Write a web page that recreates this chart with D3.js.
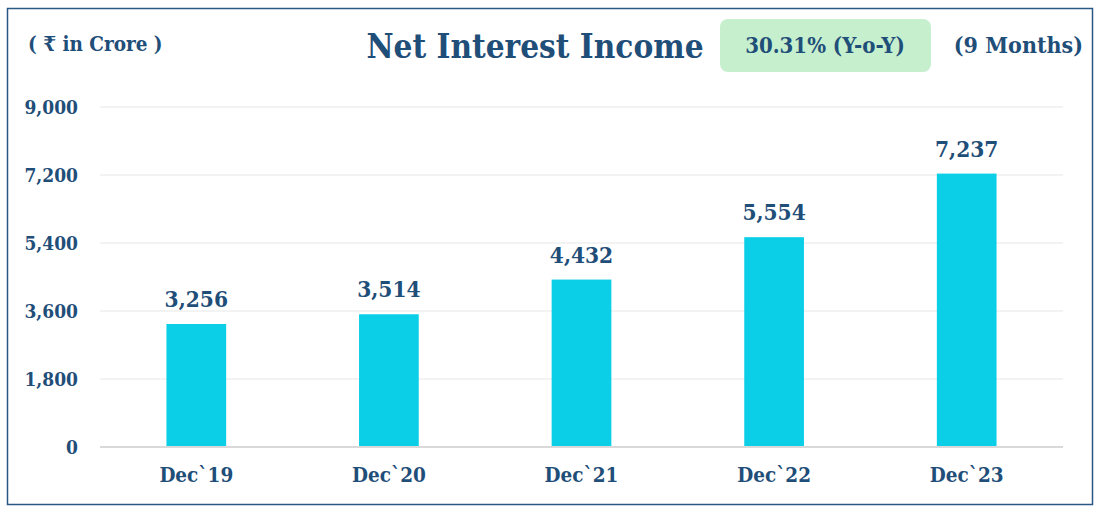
<!DOCTYPE html>
<html>
<head>
<meta charset="utf-8">
<script src="https://cdn.jsdelivr.net/npm/d3@7"></script>
<style>
  body { margin: 0; background: #fff; }
  svg text { font-family: "Book Antiqua", "Palatino Linotype", "DejaVu Serif", serif; font-stretch: condensed; font-weight: bold; fill: #1f4e79; }
</style>
</head>
<body>
<div class="vis"></div>
<script>
const categories = ["Dec`19", "Dec`20", "Dec`21", "Dec`22", "Dec`23"];
const values = [3256, 3514, 4432, 5554, 7237];
const yTicks = [0, 1800, 3600, 5400, 7200, 9000];

const W = 1095, H = 508;
const m = { left: 100, right: 32, top: 107, bottom: 61 };
const w = W - m.left - m.right, h = H - m.top - m.bottom;

const svg = d3.select(".vis").append("svg").attr("width", W).attr("height", H);

// outer frame
svg.append("rect")
    .attr("x", 7.5).attr("y", 8.5).attr("width", 1085).attr("height", 496)
    .attr("fill", "none").attr("stroke", "#2a5783").attr("stroke-width", 1.5);

const g = svg.append("g").attr("transform", `translate(${m.left}, ${m.top})`);

const x = d3.scaleBand().domain(categories).range([0, w]).paddingInner(0.69).paddingOuter(0.345);
const y = d3.scaleLinear().domain([0, 9000]).range([h, 0]);

// gridlines
g.append("g").selectAll("line").data(yTicks.filter(d => d > 0)).join("line")
    .attr("x1", 0).attr("x2", w)
    .attr("y1", d => y(d)).attr("y2", d => y(d))
    .attr("stroke", "#efefef").attr("stroke-width", 1.5);

// y axis labels
const yAxis = g.append("g")
    .call(d3.axisLeft(y).tickValues(yTicks).tickFormat(d3.format(",")).tickSize(0).tickPadding(22));
yAxis.select(".domain").remove();
yAxis.attr("font-family", null).attr("font-size", null);
yAxis.selectAll("text").attr("font-size", 19).attr("dy", "0.35em");

// bars
g.selectAll("rect.bar").data(values).join("rect")
    .attr("class", "bar")
    .attr("x", (d, i) => x(categories[i]))
    .attr("width", x.bandwidth())
    .attr("y", d => y(d))
    .attr("height", d => h - y(d))
    .attr("fill", "#0bcfe7");

// baseline
g.append("line").attr("x1", 0).attr("x2", w).attr("y1", h).attr("y2", h)
    .attr("stroke", "#d9d9d9").attr("stroke-width", 2);

// x axis labels
const xAxis = g.append("g").attr("transform", `translate(0, ${h})`)
    .call(d3.axisBottom(x).tickSize(0).tickPadding(20));
xAxis.select(".domain").remove();
xAxis.attr("font-family", null).attr("font-size", null);
xAxis.selectAll("text").attr("font-size", 20.5);

// value labels
g.selectAll("text.val").data(values).join("text")
    .attr("class", "val")
    .attr("x", (d, i) => x(categories[i]) + x.bandwidth() / 2)
    .attr("y", d => y(d) - 17)
    .attr("text-anchor", "middle")
    .attr("font-size", 22.5)
    .text(d3.format(","));

// header texts
svg.append("text").attr("x", 28).attr("y", 51).attr("font-size", 20.5).text("( ₹ in Crore )");
svg.append("text").attr("x", 535).attr("y", 58).attr("text-anchor", "middle").attr("font-size", 33).text("Net Interest Income");

svg.append("rect").attr("x", 720).attr("y", 19).attr("width", 211).attr("height", 53).attr("rx", 8)
    .attr("fill", "#c6efce");
svg.append("text").attr("x", 825).attr("y", 53).attr("text-anchor", "middle").attr("font-size", 22).text("30.31% (Y-o-Y)");
svg.append("text").attr("x", 1083).attr("y", 53).attr("text-anchor", "end").attr("font-size", 23).text("(9 Months)");
</script>
</body>
</html>
